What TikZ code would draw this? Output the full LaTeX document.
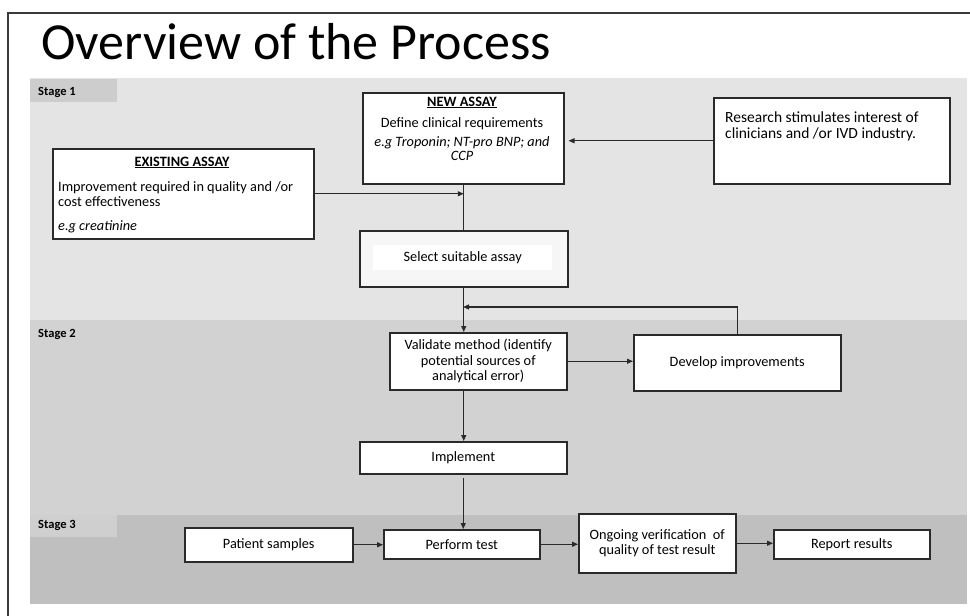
\documentclass[tikz,border=0pt]{standalone}
\usepackage{fontspec}
\setmainfont{Carlito}
\usetikzlibrary{arrows.meta,calc}
\definecolor{bandA}{HTML}{E4E4E4}
\definecolor{tabA}{HTML}{CDCDCD}
\definecolor{bandB}{HTML}{D2D2D2}
\definecolor{bandC}{HTML}{BFBFBF}
\definecolor{tabC}{HTML}{CFCFCF}
\definecolor{boxline}{HTML}{2A2A2A}
\definecolor{connline}{HTML}{2A2A2A}
\definecolor{frameline}{HTML}{3A3A3A}
\definecolor{selfill}{HTML}{F6F6F6}
\begin{document}
\begin{tikzpicture}[x=1pt,y=-1pt,
  box/.style={draw=boxline, line width=1.5pt, fill=white, inner sep=2pt, align=center, anchor=north west, font=\fontsize{14.3}{15.5}\selectfont},
  txt/.style={inner sep=0pt, font=\fontsize{14.3}{15.5}\selectfont},
  bigtxt/.style={inner sep=0pt, font=\fontsize{15.5}{16}\selectfont},
  conn/.style={draw=connline, line width=1.3pt},
  arr/.style={conn, -{Triangle[length=6pt,width=5pt]}},
  stagelbl/.style={inner sep=0pt, anchor=base west, font=\fontsize{12.5}{14}\selectfont\bfseries}]
\useasboundingbox (0,0) rectangle (970,616);
\fill[white] (0,0) rectangle (970,616);
% stage bands
\fill[bandA] (30,78) rectangle (967,320);
\fill[tabA] (30,79) rectangle (117,102);
\fill[bandB] (30,320) rectangle (967,515);
\fill[bandC] (30,515) rectangle (967,604);
\fill[tabC] (30,515) rectangle (117,537);
\node[stagelbl] (s1) at (38,95) {Stage 1};
\node[stagelbl] (s2) at (38,337) {Stage 2};
\node[stagelbl] (s3) at (38,528) {Stage 3};
% frame
\draw[frameline, line width=2pt] (970,13) -- (8,13) -- (8,616);
% title
\node[inner sep=0pt, anchor=base west, font=\fontsize{52}{60}\selectfont] (title) at (41,59) {Overview of the Process};
% boxes
\node[box, minimum width=261pt, minimum height=90pt] (exist) at (52,148) {};
\node[txt, anchor=base] (existhead) at (182,166) {\textbf{\underline{EXISTING ASSAY}}};
\node[txt, anchor=base west] (exist1) at (58,191) {Improvement required in quality and /or};
\node[txt, anchor=base west] (exist2) at (58,206) {cost effectiveness};
\node[txt, anchor=base west] (exist3) at (58,230) {\itshape e.g creatinine};
\node[box, minimum width=201pt, minimum height=91pt] (newa) at (362,92) {};
\node[txt, anchor=base] (newhead) at (462,106) {\textbf{\underline{NEW ASSAY}}};
\node[txt, anchor=base] (new1) at (462,127) {Define clinical requirements};
\node[txt, anchor=base] (new2) at (462,146) {\itshape e.g Troponin; NT-pro BNP; and};
\node[txt, anchor=base] (new3) at (462,160) {\itshape CCP};
\node[box, minimum width=236pt, minimum height=86pt] (res) at (713,97) {};
\node[bigtxt, anchor=base west] (res1) at (725,122) {Research stimulates interest of};
\node[bigtxt, anchor=base west] (res2) at (725,138) {clinicians and /or IVD industry.};
\node[box, fill=selfill, minimum width=208pt, minimum height=56pt] (sel) at (359,230) {};
\node[txt, fill=white, anchor=north west, minimum width=179pt, minimum height=25pt] (seltext) at (373,245) {Select suitable assay};
\node[box, minimum width=177pt, minimum height=57pt] (val) at (389,332) {Validate method (identify\\potential sources of\\analytical error)};
\node[box, minimum width=207pt, minimum height=56pt] (dev) at (633,334) {Develop improvements};
\node[box, minimum width=207pt, minimum height=32pt] (impl) at (359,441) {Implement};
\node[box, minimum width=168pt, minimum height=34pt] (pat) at (184,527) {Patient samples};
\node[box, minimum width=156pt, minimum height=29pt] (perf) at (383,529) {Perform test};
\node[box, minimum width=157pt, minimum height=59pt] (ong) at (578,513) {Ongoing verification \ of\\quality of test result};
\node[box, minimum width=156pt, minimum height=29pt] (rep) at (773,529) {Report results};
% connectors
\coordinate (fb) at (463,307);
\draw[arr] (exist.east) -- (exist.east -| sel.north);
\draw[conn] (newa.south -| sel.north) -- (sel.north);
\draw[arr, shorten >=4pt] (res.west) -- (res.west -| newa.east);
\draw[arr] (sel.south) -- (sel.south |- val.north);
\draw[arr] (dev.north) |- (fb);
\draw[arr] (val.east) -- (val.east -| dev.west);
\draw[arr] (sel.south |- val.south) -- (sel.south |- impl.north);
\draw[arr] ([yshift=-3pt]impl.south) -- (impl.south |- perf.north);
\draw[arr] (pat.east) -- (pat.east -| perf.west);
\draw[arr] (perf.east) -- (perf.east -| ong.west);
\draw[arr] (ong.east) -- (ong.east -| rep.west);
\end{tikzpicture}
\end{document}
